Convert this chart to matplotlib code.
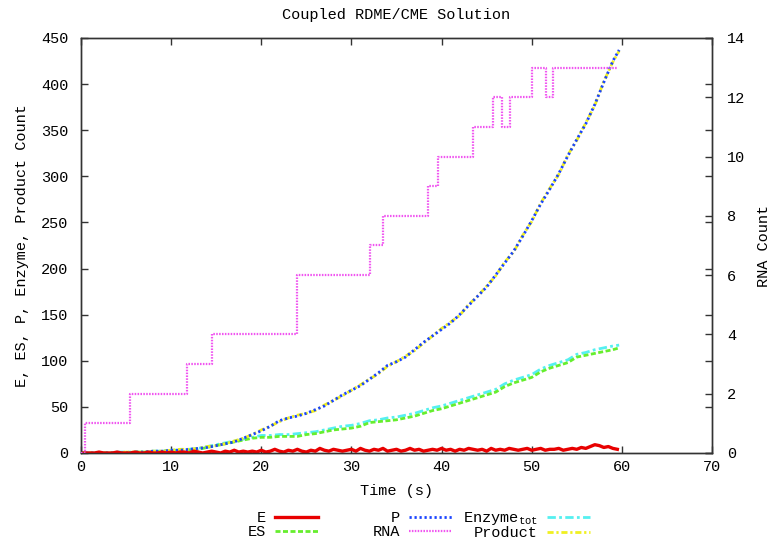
import numpy as np
import matplotlib
matplotlib.use("Agg")
import matplotlib.pyplot as plt

plt.rcParams['font.family'] = ['Liberation Mono', 'DejaVu Sans']
plt.rcParams['mathtext.fontset'] = 'custom'
plt.rcParams['mathtext.rm'] = 'Liberation Mono'
plt.rcParams['mathtext.it'] = 'Liberation Mono'
plt.rcParams['mathtext.default'] = 'regular'

# ---------------- data ----------------
t_main = [0, 1, 2, 3, 4, 5, 6, 7, 8, 9, 10, 11, 12, 13, 14, 15, 16, 17, 18, 19,
          20, 21, 22, 23, 24, 25, 26, 27, 28, 29, 30, 31, 32, 33, 34, 35, 36, 37, 38, 39,
          40, 41, 42, 43, 44, 45, 46, 47, 48, 49, 50, 51, 52, 53, 54, 55, 56, 57, 58, 59, 59.7]

P_vals = [0, 0, 0, 0, 0, 0, 1, 1, 2, 2, 3, 3, 4, 5, 6, 8, 10, 12, 16, 20,
          24, 29, 35, 38, 40, 43, 47, 51, 57, 63, 68, 73, 80, 87, 95, 99, 104, 112, 120, 127,
          134, 141, 150, 160, 170, 180, 193, 206, 219, 235, 252, 270, 286, 303, 322, 340, 357, 378, 402, 425, 437]

Product_vals = [0, 0, 0, 0, 0, 1, 1, 1, 2, 2, 3, 4, 4, 5, 7, 8, 10, 13, 16, 20,
                25, 29, 34, 38, 41, 43, 46, 52, 57, 62, 68, 74, 80, 86, 94, 99, 105, 111, 119, 127,
                135, 142, 149, 161, 170, 181, 192, 207, 218, 236, 251, 271, 287, 302, 323, 339, 358, 377, 403, 424, 436]

ES_vals = [0, 0, 0, 0, 0, 0, 1, 1, 1, 2, 2, 3, 3, 4, 6, 8, 10, 12, 14, 16,
           17, 17, 18, 18, 18, 20, 21, 23, 25, 26, 27, 29, 33, 34, 35, 36, 38, 40, 43, 46,
           48, 51, 54, 57, 60, 63, 66, 72, 76, 79, 82, 88, 92, 95, 98, 104, 106, 108, 110, 112, 114]

Enz_vals = [0, 0, 0, 0, 1, 1, 1, 1, 2, 2, 3, 3, 4, 5, 7, 9, 11, 13, 15, 17,
            19, 19, 20, 20, 21, 22, 23, 25, 27, 29, 30, 32, 35, 36, 38, 39, 41, 43, 46, 49,
            51, 54, 57, 60, 63, 66, 69, 75, 79, 82, 85, 91, 95, 98, 101, 107, 109, 112, 114, 116, 117]

t_E = [0.5 * i for i in range(120)]
E_vals = [0, 0, 0, 0, 1, 0, 0, 0, 1, 0, 0, 0, 1, 0, 0, 1, 0, 0, 1, 0,
          1, 0, 1, 1, 0, 2, 1, 0, 1, 2, 1, 0, 2, 1, 3, 1, 2, 1, 2, 1,
          3, 1, 2, 4, 2, 1, 3, 2, 4, 2, 1, 3, 2, 5, 3, 2, 4, 3, 2, 3,
          4, 2, 5, 3, 2, 4, 3, 5, 2, 3, 4, 2, 3, 5, 3, 4, 2, 3, 4, 3,
          5, 3, 4, 2, 4, 3, 5, 4, 3, 4, 2, 5, 3, 4, 3, 5, 4, 3, 4, 5,
          3, 4, 5, 3, 4, 4, 5, 3, 4, 5, 4, 6, 5, 7, 9, 8, 6, 7, 5, 4]

RNA_t = [0, 0.4, 5.4, 11.8, 14.5, 24.0, 32.1, 33.5, 38.5, 39.6, 43.5, 45.7, 46.7, 47.6, 50.0, 51.6, 52.4, 59.6]
RNA_vals = [0, 1, 2, 3, 4, 6, 7, 8, 9, 10, 11, 12, 11, 12, 13, 12, 13, 13]

x_ticks = [0, 10, 20, 30, 40, 50, 60, 70]
y_ticks = [0, 50, 100, 150, 200, 250, 300, 350, 400, 450]
y2_ticks = [0, 2, 4, 6, 8, 10, 12, 14]

# ---------------- figure ----------------
fig = plt.figure(figsize=(7.72, 5.43), dpi=100)
ax = fig.add_axes([81/772, 1-453/543, (712-81)/772, (453-38)/543])
ax2 = ax.twinx()

FS = 11
c_E = '#e80000'
c_ES = '#66ee2e'
c_P = '#1a44ff'
c_RNA = '#f055f0'
c_Enz = '#55f0f0'
c_Prod = '#f0f020'

lw = 2.0
l_Enz, = ax.plot(t_main, Enz_vals, color=c_Enz, lw=lw, dashes=(3.0, 1.2, 1.0, 1.2), zorder=2)
l_ES, = ax.plot(t_main, ES_vals, color=c_ES, lw=lw, dashes=(1.8, 0.9), zorder=3)
l_Prod, = ax.plot(t_main, Product_vals, color=c_Prod, lw=lw, dashes=(2.2, 1.0, 0.8, 1.0), zorder=4)
l_P, = ax.plot(t_main, P_vals, color=c_P, lw=lw, dashes=(0.8, 1.0), zorder=5)
l_E, = ax.plot(t_E, E_vals, color=c_E, lw=2.4, zorder=6)
l_RNA, = ax2.step(RNA_t, RNA_vals, where='post', color=c_RNA, lw=1.6, dashes=(0.7, 0.6), zorder=3)

ax.set_xlim(0, 70)
ax.set_ylim(0, 450)
ax2.set_ylim(0, 14)
ax.set_xticks(x_ticks)
ax.set_yticks(y_ticks)
ax2.set_yticks(y2_ticks)

for a in (ax, ax2):
    for s in a.spines.values():
        s.set_color('#333333')
        s.set_linewidth(1.0)

ax.tick_params(axis='both', direction='in', length=5, width=1.0, color='#333333',
               labelsize=FS, top=True, right=True, labelright=False)
ax.tick_params(axis='y', pad=9)
ax.tick_params(axis='x', pad=5)
ax2.tick_params(axis='y', direction='in', length=5, width=1.0, color='#333333',
                labelsize=FS, pad=11)

ax.set_xlabel('Time (s)', fontsize=FS, labelpad=7)
ax.set_ylabel('E, ES, P, Enzyme, Product Count', fontsize=FS, labelpad=9)
ax2.set_ylabel('RNA Count', fontsize=FS, labelpad=8)
ax.set_title('Coupled RDME/CME Solution', fontsize=FS, pad=14)

# legend: three columns, text right-aligned before the sample (gnuplot style)
cols = [
    ([l_E, l_ES], ['E', 'ES'], 318, 511, 0.0),
    ([l_P, l_RNA], ['P', 'RNA'], 452, 511, 0.0),
    ([l_Enz, l_Prod], ['Enzyme$_{tot}$', 'Product'], 590, 510, -0.05),
]
for handles, labels, xr, ytop, ls in cols:
    fig.legend(handles, labels, loc='upper right',
               bbox_to_anchor=(xr/772, 1-ytop/543),
               frameon=False, markerfirst=False, fontsize=FS,
               handlelength=2.8, handletextpad=0.6, labelspacing=ls,
               borderpad=0, borderaxespad=0)

fig.savefig('out.png', dpi=100)
